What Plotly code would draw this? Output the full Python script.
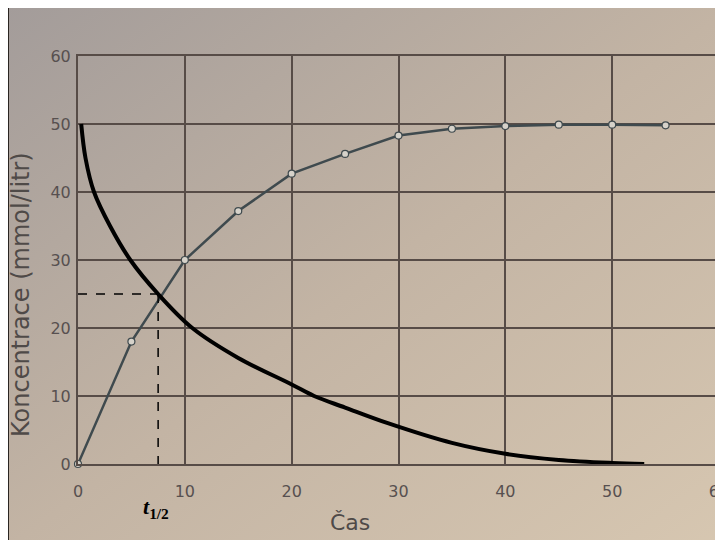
import base64
import plotly.graph_objects as go

# Measured curve (open circles)
time_points = [0, 5, 10, 15, 20, 25, 30, 35, 40, 45, 50, 55]
conc_points = [0, 18.0, 30.0, 37.2, 42.7, 45.6, 48.3, 49.3, 49.7, 49.9, 49.9, 49.8]

# Hand-drawn decay curve
decay_t = [0.3, 0.7, 1.5, 3.0, 4.9, 7.5, 10.7, 15, 20, 22.1, 25, 29, 35, 40, 45, 50, 53]
decay_c = [50, 45, 40, 35, 30, 25, 20, 15.6, 11.7, 10, 8.3, 6, 3.1, 1.5, 0.6, 0.15, 0]

# Half-life guide
half_t = 7.5
half_c = 25

x_ticks = [0, 10, 20, 30, 40, 50, 60]
y_ticks = [0, 10, 20, 30, 40, 50, 60]

OFF = 8  # page body margin
W, H = 723, 540
L, R, T, B = 70, 12, 48, 84
pw, ph = W - L - R, H - T - B

def px(xpage):
    return (xpage - OFF - L) / pw

def py(ypage):
    return (H - B - (ypage - OFF)) / ph

bg = "#c2b6a8"
grid = "#574c47"
label_col = "#575050"

# photographed-paper tint (decorative background)
svg = (
    '<svg xmlns="http://www.w3.org/2000/svg" width="723" height="540">'
    '<defs><linearGradient id="g" x1="0" y1="0" x2="1" y2="1">'
    '<stop offset="0" stop-color="#a39c9a"/>'
    '<stop offset="0.5" stop-color="#c3b4a4"/>'
    '<stop offset="1" stop-color="#d7c7b1"/>'
    '</linearGradient></defs>'
    '<rect width="723" height="540" fill="url(#g)"/></svg>'
)
svg_uri = "data:image/svg+xml;base64," + base64.b64encode(svg.encode()).decode()

fig = go.Figure()

fig.add_trace(go.Scatter(
    x=time_points, y=conc_points, mode="lines+markers",
    line=dict(color="#3f4a4e", width=2.5),
    marker=dict(symbol="circle", size=7, color="#d6d2ca",
                line=dict(color="#3f4a4e", width=1.2)),
    cliponaxis=False, showlegend=False, hoverinfo="skip"))

fig.add_trace(go.Scatter(
    x=decay_t, y=decay_c, mode="lines",
    line=dict(color="black", width=4, shape="spline", smoothing=1.0),
    cliponaxis=False, showlegend=False, hoverinfo="skip"))

fig.add_trace(go.Scatter(
    x=[0, half_t], y=[half_c, half_c], mode="lines",
    line=dict(color="black", width=1.5, dash="dash"),
    cliponaxis=False, showlegend=False, hoverinfo="skip"))
fig.add_trace(go.Scatter(
    x=[half_t, half_t], y=[half_c, -0.8], mode="lines",
    line=dict(color="black", width=1.5, dash="dash"),
    cliponaxis=False, showlegend=False, hoverinfo="skip"))

fig.update_xaxes(
    range=[0, 60], tickvals=x_ticks, ticktext=[str(v) for v in x_ticks],
    showgrid=True, gridcolor=grid, gridwidth=2, automargin=False,
    showline=True, linecolor=grid, linewidth=2, mirror=True,
    zeroline=False, ticks="", ticklabelstandoff=12,
    tickfont=dict(family="DejaVu Sans", size=16, color=label_col))
fig.update_yaxes(
    range=[0, 60], tickvals=y_ticks, ticktext=[str(v) for v in y_ticks],
    showgrid=True, gridcolor=grid, gridwidth=2, automargin=False,
    showline=True, linecolor=grid, linewidth=2, mirror=True,
    zeroline=False, ticks="", ticklabelstandoff=2,
    tickfont=dict(family="DejaVu Sans", size=16, color=label_col))

shapes = [
    dict(type="line", xref="paper", yref="paper", x0=px(8), x1=px(8), y0=py(H + 20), y1=py(8),
         line=dict(color="#2a2522", width=2)),
]

annotations = [
    dict(text="Koncentrace (mmol/litr)", xref="paper", yref="paper",
         x=px(21), y=py(295), xanchor="center", yanchor="middle",
         textangle=-90, showarrow=False,
         font=dict(family="DejaVu Sans", size=24, color="#4f4a48")),
    dict(text="Čas", xref="paper", yref="paper", x=px(350), y=py(522),
         xanchor="center", yanchor="middle",
         showarrow=False, font=dict(family="DejaVu Sans", size=22, color="#4f4a48")),
    dict(text="<b><i>t</i></b><sub><b>1/2</b></sub>", xref="paper", yref="paper",
         x=px(156), y=py(508), xanchor="center", yanchor="middle", showarrow=False,
         font=dict(family="Liberation Serif", size=22, color="black")),
]

images = [
    dict(source=svg_uri, xref="paper", yref="paper",
         x=px(8), y=py(8), sizex=W / pw, sizey=H / ph,
         xanchor="left", yanchor="top", sizing="stretch", layer="below"),
]

fig.update_layout(
    width=W, height=H,
    margin=dict(l=L, r=R, t=T, b=B),
    paper_bgcolor=bg, plot_bgcolor="rgba(0,0,0,0)",
    shapes=shapes, annotations=annotations, images=images,
    showlegend=False)

fig.write_html("out.html")
